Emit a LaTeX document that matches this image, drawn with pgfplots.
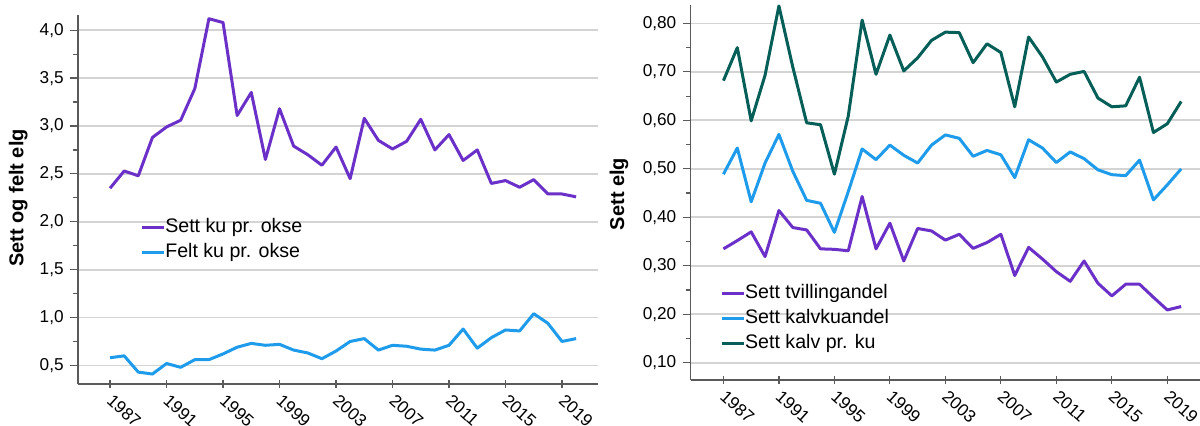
\documentclass[border=0pt]{standalone}
\usepackage{fontspec}
\setmainfont{Liberation Sans}
\usepackage{pgfplots}
\pgfplotsset{compat=1.18}

\definecolor{cpurple}{RGB}{106,48,200}
\definecolor{cblue}{RGB}{30,155,235}
\definecolor{cteal}{RGB}{5,94,87}
\definecolor{cgrid}{RGB}{212,212,212}
\definecolor{caxis}{RGB}{90,90,90}

\pgfplotstableread{
year sku fku
1987 2.35 0.58
1988 2.53 0.60
1989 2.48 0.43
1990 2.88 0.41
1991 2.99 0.52
1992 3.06 0.48
1993 3.39 0.56
1994 4.12 0.56
1995 4.08 0.62
1996 3.11 0.69
1997 3.35 0.73
1998 2.65 0.71
1999 3.18 0.72
2000 2.79 0.66
2001 2.70 0.63
2002 2.59 0.57
2003 2.78 0.65
2004 2.45 0.75
2005 3.08 0.78
2006 2.85 0.66
2007 2.76 0.71
2008 2.84 0.70
2009 3.07 0.67
2010 2.75 0.66
2011 2.91 0.71
2012 2.64 0.88
2013 2.75 0.68
2014 2.40 0.79
2015 2.43 0.87
2016 2.36 0.86
2017 2.44 1.04
2018 2.29 0.94
2019 2.29 0.75
2020 2.26 0.78
}\okse

\pgfplotstableread{
year tvilling kalvku kalvpku
1987 0.335 0.489 0.682
1988 0.352 0.543 0.750
1989 0.370 0.432 0.599
1990 0.319 0.512 0.693
1991 0.414 0.571 0.836
1992 0.379 0.495 0.710
1993 0.374 0.435 0.595
1994 0.335 0.429 0.591
1995 0.334 0.369 0.489
1996 0.331 0.453 0.609
1997 0.443 0.541 0.807
1998 0.335 0.519 0.695
1999 0.388 0.549 0.776
2000 0.310 0.528 0.702
2001 0.377 0.512 0.729
2002 0.372 0.549 0.765
2003 0.353 0.570 0.782
2004 0.365 0.563 0.781
2005 0.336 0.526 0.719
2006 0.348 0.538 0.758
2007 0.365 0.529 0.740
2008 0.280 0.482 0.628
2009 0.338 0.560 0.772
2010 0.314 0.543 0.731
2011 0.288 0.513 0.679
2012 0.268 0.535 0.695
2013 0.310 0.521 0.701
2014 0.264 0.498 0.646
2015 0.238 0.488 0.628
2016 0.262 0.486 0.630
2017 0.262 0.518 0.689
2018 0.235 0.436 0.575
2019 0.209 0.467 0.593
2020 0.216 0.500 0.639
}\kalv

\pgfplotsset{
  elgstyle/.style={
    scale only axis,
    anchor=south west,
    axis x line*=bottom,
    axis y line*=left,
    axis line style={caxis, line width=0.75pt, -},
    ymajorgrids,
    major grid style={cgrid, line width=0.9pt},
    xtick={1987,1991,...,2019},
    xticklabels={1987,1991,1995,1999,2003,2007,2011,2015,2019},
    x tick style={caxis, line width=0.6pt},
    y tick style={caxis, line width=0.6pt},
    xtick align=center,
    ytick align=outside,
    major tick length=4pt,
    minor tick length=2.5pt,
    minor y tick num=1,
    tick label style={font=\fontsize{8.6}{10}\selectfont},
    xticklabel style={rotate=-42, anchor=north west, inner sep=1pt, xshift=2pt, yshift=0.5pt},
    yticklabel style={/pgf/number format/assume math mode=true, inner sep=1pt, xshift=-2pt},
    label style={font=\bfseries\fontsize{10}{12}\selectfont},
    legend style={draw=none, fill=none, inner sep=0pt, font=\fontsize{9.8}{11}\selectfont,
      nodes={inner sep=0pt, text height=7pt, text depth=2pt}, row sep=3.5pt,
      /tikz/every even column/.append style={column sep=2pt}},
    legend cell align=left,
    legend image code/.code={\draw[#1, line width=1.6pt] (0pt,0pt) -- (11pt,0pt);},
    every axis plot/.append style={line width=1.5pt, line join=round},
  }
}

\begin{document}
\begin{tikzpicture}
\useasboundingbox (0,0) rectangle (600pt,213pt);

\begin{axis}[elgstyle,
  at={(39pt,21pt)},
  width=260pt, height=184.5pt,
  xmin=1984.73, xmax=2021.55,
  ymin=0.306, ymax=4.159,
  ytick={0.5,1.0,...,4.0},
  yticklabel style={/pgf/number format/.cd, use comma, fixed, fixed zerofill, precision=1},
  ylabel={Sett og felt elg},
  ylabel style={at={(axis description cs:-0.115,0.504)}, anchor=center},
  legend style={at={(axis cs:1989.1,2.04)}, anchor=north west},
]
\addplot[cpurple] table[x=year, y=sku] {\okse};
\addlegendentry{Sett ku pr. okse}
\addplot[cblue] table[x=year, y=fku] {\okse};
\addlegendentry{Felt ku pr. okse}
\end{axis}

\begin{axis}[elgstyle,
  at={(345.35pt,23pt)},
  width=254.6pt, height=187.5pt,
  xmin=1984.64, xmax=2021.35,
  ymin=0.0645, ymax=0.838,
  ytick={0.1,0.2,...,0.8},
  yticklabel style={/pgf/number format/.cd, use comma, fixed, fixed zerofill, precision=2},
  ylabel={Sett elg},
  ylabel style={at={(axis description cs:-0.141,0.496)}, anchor=center},
  legend style={at={(axis cs:1986.72,0.263)}, anchor=north west},
]
\addplot[cpurple] table[x=year, y=tvilling] {\kalv};
\addlegendentry{Sett tvillingandel}
\addplot[cblue] table[x=year, y=kalvku] {\kalv};
\addlegendentry{Sett kalvkuandel}
\addplot[cteal] table[x=year, y=kalvpku] {\kalv};
\addlegendentry{Sett kalv pr. ku}
\end{axis}
\end{tikzpicture}
\end{document}
